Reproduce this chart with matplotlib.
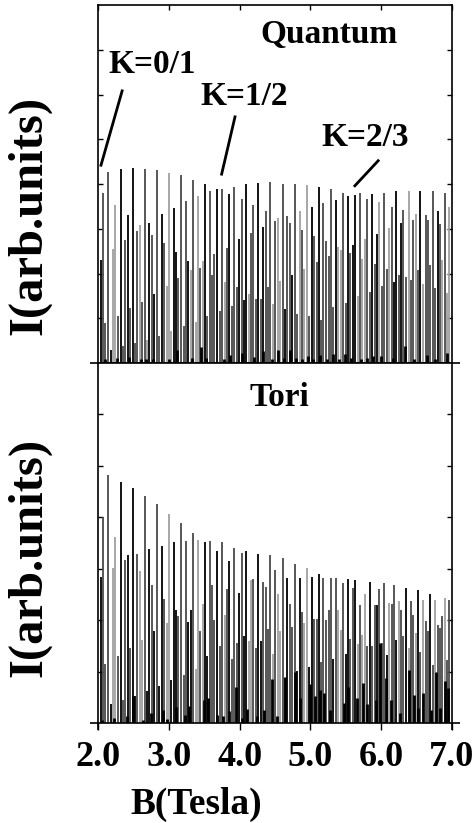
import matplotlib
matplotlib.use("Agg")
import matplotlib.pyplot as plt

plt.rcParams['font.family'] = ['Liberation Serif', 'DejaVu Serif']
plt.rcParams['font.weight'] = 'bold'

# ---- data: line positions (Tesla) shared by both panels ----
B = [
 2.038, 2.071, 2.099, 2.142, 2.184, 2.208, 2.241, 2.279, 2.316, 2.345,
 2.373, 2.420, 2.448, 2.486, 2.524, 2.552, 2.590, 2.623, 2.661, 2.694,
 2.722, 2.760, 2.793, 2.830, 2.863, 2.896, 2.929, 2.967, 3.000, 3.033,
 3.066, 3.104, 3.132, 3.165, 3.212, 3.236, 3.273, 3.306, 3.344, 3.377,
 3.405, 3.443, 3.476, 3.509, 3.542, 3.575, 3.608, 3.641, 3.679, 3.721,
 3.754, 3.787, 3.816, 3.853, 3.896, 3.919, 3.957, 3.990, 4.028, 4.061,
 4.084, 4.127, 4.160, 4.193, 4.226, 4.264, 4.297, 4.329, 4.367, 4.400,
 4.433, 4.471, 4.504, 4.537, 4.570,
 4.608, 4.645, 4.674, 4.707, 4.744, 4.777, 4.815, 4.848, 4.881, 4.914,
 4.947, 4.985, 5.018, 5.051, 5.089, 5.122, 5.155, 5.183, 5.221, 5.258,
 5.291, 5.324, 5.357, 5.395, 5.428, 5.466, 5.499, 5.527, 5.560, 5.598,
 5.636, 5.673, 5.706, 5.735, 5.772, 5.805, 5.838, 5.876, 5.909, 5.942,
 5.975, 6.008, 6.046, 6.079, 6.116, 6.149, 6.182, 6.211, 6.249, 6.281,
 6.314, 6.352, 6.390, 6.423, 6.456, 6.489, 6.522, 6.555, 6.597, 6.630,
 6.663, 6.696, 6.729, 6.767, 6.800, 6.833, 6.866, 6.899, 6.937, 6.965,
]

# ---- Quantum panel intensities and grey level (K black, D dark, L light) ----
quantum_h = [
 2.30, 3.79, 0.89, 4.27, 0.30, 2.55, 3.53, 1.06, 4.33, 0.37,
 2.75, 3.30, 1.22, 4.36, 0.45, 2.95, 3.08, 1.37, 4.33, 0.52,
 3.13, 2.85, 1.55, 4.31, 0.61, 3.32, 2.68, 1.73, 4.25, 0.71,
 3.46, 2.48, 1.91, 4.19, 0.82, 3.61, 2.29, 2.08, 4.10, 0.91,
 3.73, 2.12, 2.27, 3.99, 1.04, 3.84, 1.96, 2.43, 3.89, 1.16,
 3.89, 1.81, 2.58, 3.78, 1.28, 3.94, 1.69, 2.76, 3.66, 1.41,
 4.00, 1.54, 2.90, 3.54, 1.44, 4.02, 1.43, 3.03, 3.39, 1.70,
 4.04, 1.32, 3.18, 3.25, 1.84,
 4.01, 1.21, 3.29, 3.12, 1.97, 4.00, 1.10, 3.40, 2.97, 2.10,
 3.98, 1.04, 3.49, 2.84, 2.25, 3.93, 0.95, 3.58, 2.73, 2.38,
 3.88, 1.25, 3.64, 2.59, 2.53, 3.81, 1.35, 3.73, 2.46, 2.64,
 3.75, 1.49, 3.81, 2.33, 2.77, 3.67, 1.58, 3.77, 2.21, 2.89,
 3.59, 1.71, 3.81, 2.10, 3.01, 3.49, 1.82, 3.84, 1.97, 3.12,
 3.41, 1.93, 3.84, 1.86, 3.20, 3.32, 2.07, 3.84, 1.76, 3.30,
 3.20, 2.19, 3.84, 1.67, 3.39, 3.11, 2.30, 3.81, 1.56, 3.48,
]
quantum_c = list(
 "KDDDKLLDKD" "DKDKDDLDDL" "KDKDDKDLLL" "KKDDDDKLDL" "LDLKDDDDKD"
 "DLDKDDDKDK" "KLDDDKDKDD" "DLDLL"
 "DKDDKDDLDL" "LDKDDKDDDD" "DDKLLDDKDK" "KLDLLDDKDK" "LDDDLDKKDK"
 "DDLDDLDKLD" "DDDDKDLDLL"
)

# ---- Tori panel intensities and grey level ----
tori_h = [
 2.84, 4.00, 1.14, 4.82, 0.36, 3.01, 3.62, 1.30, 4.69, 0.45,
 3.16, 3.27, 1.45, 4.56, 0.53, 3.28, 2.95, 1.62, 4.41, 0.63,
 3.39, 2.68, 1.78, 4.25, 0.71, 3.44, 2.42, 1.94, 4.07, 0.84,
 3.51, 2.19, 2.08, 3.88, 0.94, 3.53, 1.97, 2.19, 3.69, 1.05,
 3.55, 1.79, 2.32, 3.51, 1.30, 3.53, 2.68, 2.00, 3.35, 1.50,
 3.51, 2.10, 2.60, 3.15, 1.25, 3.41, 1.55, 2.52, 3.30, 1.70,
 3.34, 1.60, 2.78, 2.80, 1.45, 3.29, 1.60, 2.75, 2.65, 1.83,
 3.27, 1.35, 2.98, 2.50, 1.79,
 3.21, 0.88, 2.81, 2.32, 1.87, 3.10, 1.01, 2.82, 2.16, 1.95,
 3.02, 1.09, 2.83, 2.03, 2.03, 2.90, 1.18, 2.82, 2.00, 2.20,
 2.82, 1.25, 2.82, 2.20, 1.80, 2.73, 1.35, 2.80, 1.64, 2.62,
 2.79, 1.54, 2.29, 1.72, 2.51, 1.50, 2.75, 1.50, 2.30, 2.30,
 2.60, 1.56, 2.73, 1.33, 2.34, 2.31, 2.68, 1.62, 2.37, 2.19,
 1.70, 2.62, 1.45, 2.37, 2.10, 1.75, 2.58, 1.38, 2.40, 1.99,
 1.79, 2.51, 1.12, 2.39, 1.90, 1.85, 2.08, 2.44, 1.22, 2.40,
]
tori_c = list(
 "KDDDKLLDKD" "DKDKKDLLDK" "KDKDKKDLLK" "KKDDDDKKDL" "LDLKKDDDKD"
 "DLDKDDDKDK" "KLLDDKKDDD" "DLDLL"
 "DDKDDDKKDL" "LKKDDKDDDD" "DKDLLDKKDD" "KLDLLDKDDK" "DDDKLDDKLD"
 "DKLDDLKDLD" "DKDLDDDLDD"
)

# ---- short black stubs at the baseline ----
quantum_stub_B = [2.090, 2.260, 2.434, 2.599, 2.675, 2.778, 3.005, 3.118, 3.330,
                  3.453, 3.523, 3.773, 3.863, 4.033, 4.207, 4.334, 4.452, 4.546,
                  4.627, 4.712, 4.792, 4.877, 4.966, 5.041, 5.136, 5.230, 5.315,
                  5.405, 5.485, 5.570, 5.721, 5.806, 5.891, 5.994, 6.164, 6.343,
                  6.470, 6.645, 6.763, 6.928]
quantum_stub_h = [0.10, 0.11, 0.13, 0.08, 0.08, 0.10, 0.10, 0.30, 0.12,
                  0.35, 0.12, 0.10, 0.17, 0.22, 0.14, 0.26, 0.10, 0.30,
                  0.12, 0.30, 0.12, 0.08, 0.15, 0.09, 0.17, 0.08, 0.20,
                  0.08, 0.21, 0.12, 0.09, 0.12, 0.15, 0.16, 0.12, 0.39,
                  0.08, 0.17, 0.08, 0.22]
tori_stub_B = [2.048, 2.227, 2.401, 2.495, 2.637, 2.745, 2.910, 2.976, 3.099,
               3.222, 3.290, 3.490, 3.555, 3.685, 3.760, 3.844, 3.947, 4.040,
               4.099, 4.240, 4.345, 4.452, 4.523, 4.640, 4.782, 4.853, 4.990,
               5.060, 5.136, 5.188, 5.277, 5.475, 5.537, 5.664, 5.740, 5.806,
               5.923, 5.985, 6.070, 6.141, 6.272, 6.400, 6.466, 6.530, 6.588,
               6.701, 6.772, 6.840, 6.909, 6.943]
tori_stub_h = [0.06, 0.10, 0.13, 0.52, 0.06, 0.20, 0.26, 0.08, 0.32,
               0.16, 0.34, 0.45, 0.49, 0.16, 0.14, 0.23, 0.70, 0.10,
               0.27, 0.13, 0.26, 0.86, 0.13, 0.90, 1.00, 0.49, 0.75,
               0.52, 0.65, 0.58, 0.26, 0.39, 0.70, 0.49, 0.78, 0.36,
               0.45, 1.56, 0.88, 0.45, 0.20, 1.03, 0.55, 0.29, 0.58,
               0.26, 1.00, 0.30, 0.81, 0.68]

x_ticks = [2.0, 3.0, 4.0, 5.0, 6.0, 7.0]
x_tick_labels = ["2.0", "3.0", "4.0", "5.0", "6.0", "7.0"]

assert len(B) == len(quantum_h) == len(quantum_c) == len(tori_h) == len(tori_c)

grey = {'K': '#000000', 'D': '#4a4a4a', 'L': '#a0a0a0'}

fig = plt.figure(figsize=(4.76, 8.23), dpi=100)
L, R = 98.3 / 476, 451.7 / 476
ax1 = fig.add_axes([L, 1 - 363 / 823, R - L, (363 - 5) / 823])
ax2 = fig.add_axes([L, 1 - 723 / 823, R - L, (723 - 363) / 823])

for ax, h, c, sb, sh, ytop in ((ax1, quantum_h, quantum_c, quantum_stub_B, quantum_stub_h, 8),
                                (ax2, tori_h, tori_c, tori_stub_B, tori_stub_h, 7)):
    ax.vlines(B, 0, h, colors=[grey[k] for k in c], linewidth=1.3)
    ax.vlines(sb, 0, sh, colors='k', linewidth=2.0)
    ax.set_xlim(2.0, 7.0)
    ax.set_ylim(0, ytop)
    ax.set_yticks(range(1, ytop))
    ax.tick_params(axis='y', direction='in', left=True, right=True,
                   labelleft=False, length=3.5, width=1.0)
    for s in ax.spines.values():
        s.set_linewidth(1.2)
    ax.spines['bottom'].set_visible(False)
    # baseline extending slightly beyond the frame
    ax.plot([-0.023, 1.023], [0, 0], transform=ax.transAxes, clip_on=False,
            color='k', lw=1.2, solid_capstyle='butt')
    ax.set_xticks(x_ticks)

ax1.tick_params(axis='x', direction='in', top=True, bottom=False,
                labelbottom=False, length=3.8, width=1.0)
ax2.tick_params(axis='x', direction='out', top=False, bottom=True,
                length=5, width=1.0, pad=8, labelsize=26)
ax2.set_xticklabels(x_tick_labels, fontweight='bold')
for xv in (0, 1):
    ax2.plot([xv, xv], [0, -0.02], transform=ax2.transAxes, clip_on=False,
             color='k', lw=1.2, solid_capstyle='butt')

# annotations
ax1.text(5.26, 7.33, "Quantum", ha='center', va='center', fontsize=24, fontweight='bold')
ax1.text(2.76, 6.68, "K=0/1", ha='center', va='center', fontsize=24, fontweight='bold')
ax1.text(4.06, 5.95, "K=1/2", ha='center', va='center', fontsize=24, fontweight='bold')
ax1.text(5.77, 5.03, "K=2/3", ha='center', va='center', fontsize=24, fontweight='bold')
ax1.plot([2.337, 2.038], [6.08, 4.42], color='k', lw=2.0)
ax1.plot([3.934, 3.745], [5.50, 4.22], color='k', lw=2.0)
ax1.plot([5.96, 5.63], [4.52, 3.96], color='k', lw=2.0)
ax2.text(4.556, 6.33, "Tori", ha='center', va='center', fontsize=24, fontweight='bold')

fig.text(29 / 476, 1 - 215 / 823, "I(arb.units)", rotation=90, ha='center', va='center',
         fontsize=35, fontweight='bold')
fig.text(29 / 476, 1 - 557 / 823, "I(arb.units)", rotation=90, ha='center', va='center',
         fontsize=35, fontweight='bold')
fig.text(196 / 476, 1 - 804 / 823, "B(Tesla)", ha='center', va='center',
         fontsize=27, fontweight='bold')

fig.savefig("out.png", dpi=100)
